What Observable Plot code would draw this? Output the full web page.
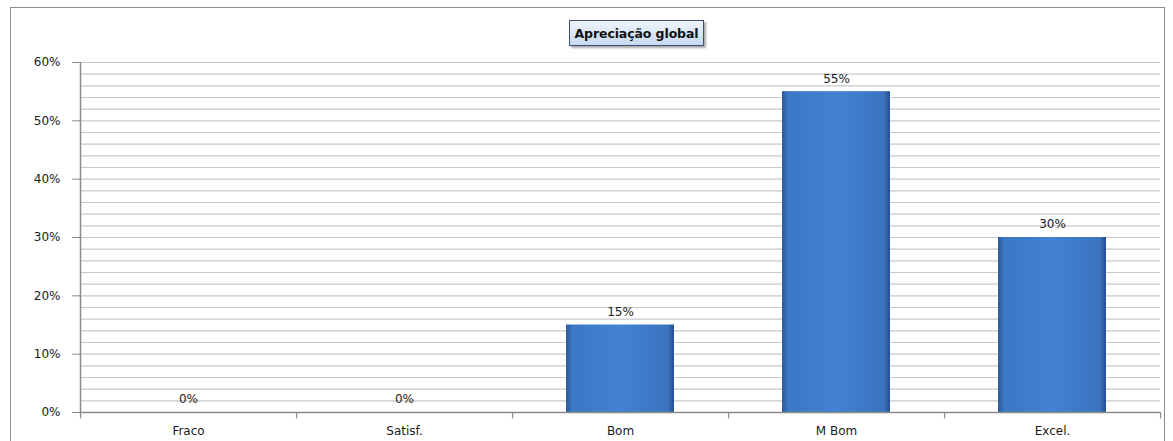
<!DOCTYPE html>
<html><head><meta charset="utf-8">
<script src="https://cdn.jsdelivr.net/npm/d3@7"></script>
<script src="https://cdn.jsdelivr.net/npm/@observablehq/plot@0.6"></script>
<style>
body{margin:0;background:#fff;font-family:"DejaVu Sans",Verdana,sans-serif;}
#wrap{position:relative;width:1173px;height:441px;overflow:hidden;}
#frame{position:absolute;left:10px;top:7px;width:1155px;height:450px;border:1px solid #8c8c8c;box-sizing:border-box;}
#title{position:absolute;left:569px;top:20px;width:135px;height:26px;text-align:center;line-height:25px;font-weight:bold;font-size:12.5px;letter-spacing:-0.1px;color:#111;
 border:1px solid #3b4f7a;background:linear-gradient(#eef4fc,#c6d9f1);box-shadow:2px 2px 2px #aaa;box-sizing:border-box;white-space:nowrap;}
#chart svg{position:absolute;left:0;top:0;}
</style></head>
<body><div id="wrap"><div id="frame"></div><div id="chart"></div><div id="title">Apreciação global</div></div>
<script>
const categories = ["Fraco","Satisf.","Bom","M Bom","Excel."];
const values = [0,0,15,55,30];
const yTicks = [0,10,20,30,40,50,60];
const yTickLabels = ["0%","10%","20%","30%","40%","50%","60%"];
const data = categories.map((c,i)=>({cat:c, v:values[i]}));
const gridLines = d3.range(0,61,2);

const chart = Plot.plot({
  width:1173, height:441,
  marginLeft:80, marginRight:13, marginTop:62, marginBottom:29,
  style:{fontFamily:"DejaVu Sans, Verdana, sans-serif", fontSize:"11px", color:"#1a1a1a", background:"transparent"},
  x:{domain:categories, paddingInner:0.5, paddingOuter:0.25, axis:null, label:null},
  y:{domain:[0,60], axis:null, label:null},
  marks:[
    Plot.ruleY(gridLines,{y:d=>d, stroke:"#c8c8c8", strokeWidth:1.2, strokeOpacity:1}),
    Plot.barY(data,{x:"cat", y:"v", fill:"url(#barGrad)"}),
    Plot.text(data,{x:"cat", y:"v", text:d=>d.v+"%", dy:-13, fontSize:12, fill:"#1a1a1a"}),
    Plot.ruleY([0],{stroke:"#8a8a8a", strokeWidth:1.5}),
    Plot.ruleX(categories,{x:d=>d, dx:-108, y1:0, y2:-1.1, stroke:"#8a8a8a", strokeWidth:1.2}),
    Plot.ruleX([categories[4]],{x:d=>d, dx:108, y1:0, y2:-1.1, stroke:"#8a8a8a", strokeWidth:1.2}),
    Plot.ruleX([categories[0]],{x:d=>d, dx:-108, y1:0, y2:60, stroke:"#8a8a8a", strokeWidth:1.5}),
    Plot.axisY({ticks:yTicks, tickFormat:d=>yTickLabels[yTicks.indexOf(d)], tickSize:8, tickPadding:12, stroke:"#8a8a8a", fontSize:12, label:null}),
    Plot.axisX({tickSize:0, tickPadding:14, fontSize:12, label:null})
  ]
});
const svg = d3.select(chart);
svg.insert("defs",":first-child").html(`<linearGradient id="barGrad" x1="0" x2="1" y1="0" y2="0">
<stop offset="0" stop-color="#2a5a9a"/><stop offset="0.06" stop-color="#3c78c6"/><stop offset="0.5" stop-color="#4282d2"/><stop offset="0.94" stop-color="#3a74c0"/><stop offset="1" stop-color="#24508c"/></linearGradient>`);
document.getElementById("chart").appendChild(chart);
</script></body></html>
